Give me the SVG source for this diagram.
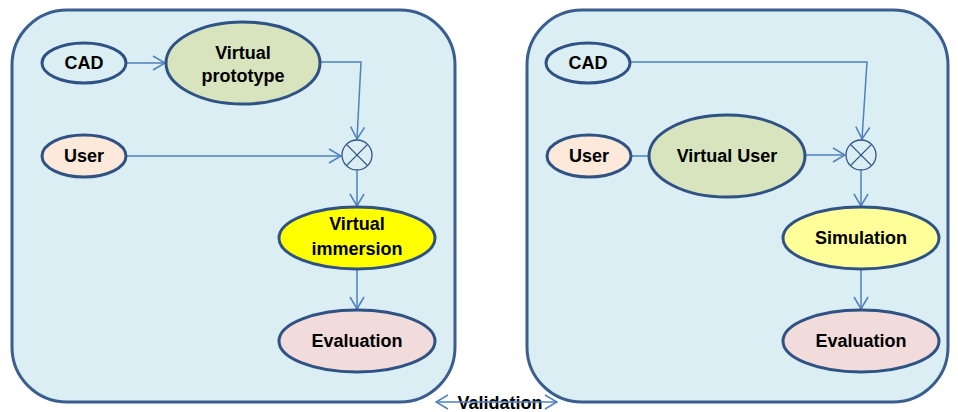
<svg xmlns="http://www.w3.org/2000/svg" width="958" height="412" viewBox="0 0 958 412">
<defs>
<marker id="arr" viewBox="0 0 14 16" refX="13" refY="8" markerWidth="14" markerHeight="16" markerUnits="userSpaceOnUse" orient="auto-start-reverse">
<path d="M1,1 L13,8 L1,15" fill="none" stroke="#4F81BD" stroke-width="1.5"/>
</marker>
</defs>
<style>
.panel{fill:#DAEEF3;stroke:#3A5F8F;stroke-width:3}
.node{stroke:#2F5284;stroke-width:3}
.t{font-family:"Liberation Sans",Arial,sans-serif;font-weight:bold;font-size:18px;fill:#000;text-anchor:middle}
.c{fill:none;stroke:#4F81BD;stroke-width:1.5}
.x{fill:none;stroke:#2F5284;stroke-width:1.3}
</style>
<rect width="958" height="412" fill="#fff"/>
<g id="panel-left"><rect class="panel" x="12" y="10" width="443" height="392" rx="55" ry="55"/></g>
<g id="panel-right"><rect class="panel" x="527" y="10" width="421" height="392" rx="55" ry="55"/></g>

<g id="connectors">
<line class="c" x1="126" y1="63" x2="165" y2="63" marker-end="url(#arr)"/>
<polyline class="c" points="321,62 361,62 357,139" marker-end="url(#arr)"/>
<line class="c" x1="126" y1="156" x2="341" y2="156" marker-end="url(#arr)"/>
<line class="c" x1="357" y1="171" x2="357" y2="206" marker-end="url(#arr)"/>
<line class="c" x1="357" y1="269" x2="357" y2="309" marker-end="url(#arr)"/>
<polyline class="c" points="630,62 867,62 862,139" marker-end="url(#arr)"/>
<line class="c" x1="631" y1="156" x2="649" y2="156"/>
<line class="c" x1="805" y1="155" x2="845" y2="155" marker-end="url(#arr)"/>
<line class="c" x1="861" y1="171" x2="861" y2="206" marker-end="url(#arr)"/>
<line class="c" x1="861" y1="269" x2="861" y2="309" marker-end="url(#arr)"/>
</g>

<g id="cad-left"><ellipse class="node" cx="84" cy="63" rx="42" ry="20" fill="#DAEEF3"/><text class="t" x="84" y="69">CAD</text></g>
<g id="vproto"><ellipse class="node" cx="243" cy="63" rx="77" ry="41" fill="#D7E4BD"/><text class="t" x="243" y="59">Virtual</text><text class="t" x="243" y="82">prototype</text></g>
<g id="user-left"><ellipse class="node" cx="84" cy="156" rx="42" ry="21" fill="#FDE9D9"/><text class="t" x="84" y="162">User</text></g>
<g id="mix-left"><circle class="x" cx="357" cy="155" r="15" fill="none"/><line class="x" x1="346.4" y1="144.4" x2="367.6" y2="165.6"/><line class="x" x1="367.6" y1="144.4" x2="346.4" y2="165.6"/></g>
<g id="vimmersion"><ellipse class="node" cx="357" cy="238" rx="78" ry="31" fill="#FFFF00"/><text class="t" x="357" y="230">Virtual</text><text class="t" x="357" y="255">immersion</text></g>
<g id="eval-left"><ellipse class="node" cx="357" cy="341" rx="78" ry="31" fill="#F2DCDB"/><text class="t" x="357" y="347">Evaluation</text></g>

<g id="cad-right"><ellipse class="node" cx="588" cy="63" rx="42" ry="20" fill="#DAEEF3"/><text class="t" x="588" y="69">CAD</text></g>
<g id="user-right"><ellipse class="node" cx="589" cy="156" rx="42" ry="21" fill="#FDE9D9"/><text class="t" x="589" y="162">User</text></g>
<g id="vuser"><ellipse class="node" cx="727" cy="156" rx="78" ry="41" fill="#D7E4BD"/><text class="t" x="727" y="162">Virtual User</text></g>
<g id="mix-right"><circle class="x" cx="861" cy="155" r="15" fill="none"/><line class="x" x1="850.4" y1="144.4" x2="871.6" y2="165.6"/><line class="x" x1="871.6" y1="144.4" x2="850.4" y2="165.6"/></g>
<g id="simulation"><ellipse class="node" cx="861" cy="238" rx="78" ry="31" fill="#FFFF99"/><text class="t" x="861" y="244">Simulation</text></g>
<g id="eval-right"><ellipse class="node" cx="861" cy="341" rx="78" ry="31" fill="#F2DCDB"/><text class="t" x="861" y="347">Evaluation</text></g>

<g id="validation">
<text class="t" x="500" y="409">Validation</text>
<line class="c" x1="436" y1="402" x2="557" y2="402" marker-start="url(#arr)" marker-end="url(#arr)"/>
</g>
</svg>
